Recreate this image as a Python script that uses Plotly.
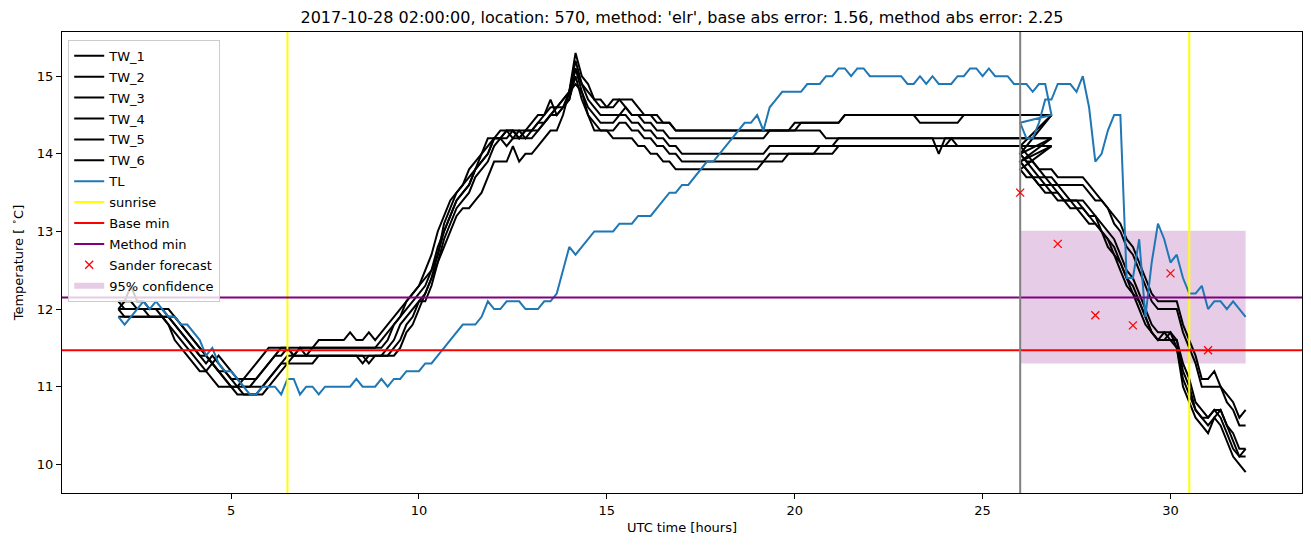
import numpy as np
import plotly.graph_objects as go

# ---------------- data (temperatures in tenths of a degree C) ----------------
obs_start = 2.0      # hours, first observed sample
fc_start = 26.0      # hours, first sample of the later chunk
step_h = 1 / 6       # 10-minute sampling

TW_1_obs = [121,121,123,121,121,120, 120,119,118,116,115,114, 113,112,112,111,110,110,
            110,110,111,112,113,114, 115,115,115,115,115,115, 115,115,116,116,116,116,
            116,117,116,116,117,116, 117,118,119,120,121,122, 123,124,125,127,131,133,
            135,136,137,138,140,141, 142,142,143,143,143,142, 143,144,145,147,145,146,
            148,153,150,149,147,147, 146,146,147,147,147,146, 145,145,145,144,144,143,
            143,143,143,143,143,143, 143,143,143,143,143,143, 143,143,143,143,143,143,
            143,144,144,144,144,144, 144,144,145,145,145,145, 145,145,145,145,145,145,
            145,145,145,145,145,145, 145,145,145,145,145,145, 145,145,145,145,145,145,
            145,145,145,145,145,145]
TW_2_obs = [120,120,120,120,120,120, 120,120,119,118,117,116, 115,114,113,114,113,112,
            111,111,111,111,111,112, 113,114,115,115,114,115, 115,115,115,115,115,115,
            115,115,115,115,115,115, 115,116,118,119,120,121, 122,123,125,128,130,132,
            134,135,136,138,139,140, 142,142,142,143,142,143, 143,143,144,145,146,147,
            148,152,149,148,147,146, 146,147,147,146,145,145, 145,145,144,144,144,143,
            143,143,143,143,143,143, 143,143,143,143,143,143, 143,143,143,143,143,143,
            144,144,144,144,144,144, 144,144,145,145,145,145, 145,145,145,145,145,145,
            145,145,144,144,144,144, 144,144,144,145,145,145, 145,145,145,145,145,145,
            145,145,145,145,145,145]
TW_3_obs = [120,121,121,120,120,119, 119,119,118,117,116,115, 114,113,112,113,112,111,
            110,110,110,110,111,112, 113,114,114,115,114,115, 114,115,115,115,115,115,
            115,115,115,115,115,115, 116,117,118,119,121,122, 123,125,127,130,132,134,
            135,136,138,139,140,142, 142,143,143,142,143,143, 144,145,145,146,146,147,
            148,151,149,147,146,145, 145,145,145,146,145,145, 144,144,143,143,142,142,
            142,142,142,142,142,142, 142,142,142,142,142,142, 142,142,143,143,143,143,
            143,143,143,143,143,142, 142,142,142,142,142,142, 142,142,142,142,142,142,
            142,142,142,142,142,140, 142,142,142,142,142,142, 142,142,142,142,142,142,
            142,142,142,142,142,142]
TW_4_obs = [121,120,120,120,120,120, 120,120,120,119,118,117, 116,115,114,113,114,113,
            112,111,110,110,110,110, 111,112,113,114,114,114, 114,114,114,114,114,114,
            114,114,114,114,113,114, 114,114,115,116,118,119, 121,122,124,127,130,132,
            134,135,136,138,139,140, 142,142,143,143,142,143, 143,144,144,145,146,146,
            147,151,148,146,145,144, 144,144,145,145,144,144, 143,143,142,142,141,141,
            140,140,140,140,140,140, 140,140,140,140,140,140, 140,140,141,141,141,141,
            141,141,141,141,141,141, 141,142,142,142,142,142, 142,142,142,142,142,142,
            142,142,142,142,142,142, 142,142,142,142,142,142, 142,142,142,142,142,142,
            142,142,142,142,142,142]
TW_5_obs = [119,119,119,119,119,119, 119,119,119,118,117,116, 115,114,114,113,112,112,
            111,110,109,109,109,110, 111,112,113,113,114,114, 114,114,114,114,114,114,
            114,114,114,114,114,114, 114,114,114,115,117,118, 120,122,124,126,129,131,
            133,134,135,137,138,139, 141,142,141,142,142,142, 142,143,144,145,145,146,
            147,150,147,145,144,143, 143,143,144,144,143,143, 142,142,141,141,140,140,
            139,139,139,139,139,139, 139,139,139,139,139,139, 139,139,140,140,140,140,
            140,140,140,140,140,140, 140,141,141,141,141,141, 141,141,141,141,141,141,
            141,141,141,141,141,141, 141,142,141,141,141,141, 141,141,141,141,141,141,
            141,141,141,141,141,141]
TW_6_obs = [120,119,119,119,119,119, 119,119,119,119,118,117, 116,115,114,113,112,111,
            110,109,109,109,109,109, 110,111,112,113,113,113, 113,113,114,114,114,114,
            114,114,114,113,114,114, 114,115,116,118,119,120, 121,121,123,126,128,130,
            132,133,133,134,135,137, 139,139,139,141,139,140, 140,141,142,143,143,145,
            148,149,148,145,143,143, 143,142,142,142,142,141, 141,140,140,139,139,138,
            138,138,138,138,138,138, 138,138,138,138,138,138, 138,139,139,139,139,140,
            140,140,140,140,141,141, 141,141,141,141,141,141, 141,141,141,141,141,141,
            141,141,141,141,141,141, 141,141,141,141,141,141, 141,141,141,141,141,141,
            141,141,141,141,141,141]
TL_obs = [119,118,119,120,121,120, 121,120,119,119,118,118, 117,116,114,115,113,112,
          112,111,110,109,109,110, 110,110,109,111,111,109, 110,110,109,110,110,110,
          110,110,111,110,110,110, 111,110,111,111,112,112, 112,113,113,114,115,116,
          117,118,118,118,119,121, 120,120,121,121,121,120, 120,120,121,121,122,125,
          128,127,128,129,130,130, 130,130,131,131,131,132, 132,132,133,134,135,135,
          136,136,137,138,139,139, 140,141,142,143,144,144, 145,143,146,147,148,148,
          148,148,149,149,149,150, 150,151,151,150,151,151, 150,150,150,150,150,150,
          149,149,150,149,150,149, 149,149,150,150,151,151, 150,151,150,150,150,149,
          149,149,148,149,149,145]

TW_1_fc = [141,140,139,138,138,138, 137,137,137,137,137,136, 135,134,133,132,131,129,
           128,126,124,122,121,121, 121,121,118,116,114,111, 111,112,110,109,108,106, 107]
TW_2_fc = [140,139,139,138,137,137, 136,136,136,136,136,135, 134,134,133,131,130,128,
           127,125,123,121,120,120, 120,120,117,115,113,110, 110,110,110,108,107,105, 105]
TW_3_fc = [140,139,138,137,137,136, 136,135,134,134,134,133, 132,131,130,129,127,125,
           124,122,120,118,117,117, 117,116,113,111,108,107, 106,107,107,105,104,102, 102]
TW_4_fc = [139,138,137,137,136,136, 135,134,134,134,133,132, 132,130,129,128,126,124,
           123,121,119,117,116,117, 116,116,112,110,107,106, 105,106,107,105,103,101, 101]
TW_5_fc = [139,138,137,136,136,135, 135,134,134,133,133,132, 131,130,129,127,126,124,
           122,121,119,117,116,116, 117,115,111,109,107,106, 106,107,106,104,102,101, 102]
TW_6_fc = [138,137,137,136,135,135, 134,134,133,133,132,131, 131,130,128,127,125,123,
           122,120,118,117,116,116, 116,115,110,108,106,105, 104,106,105,103,101,100, 99]
TL_fc = [144,142,142,144,147,147, 149,149,149,148,150,146, 139,140,143,145,145,124,
         124,129,119,126,131,129, 126,127,124,122,122,123, 120,121,121,120,121,120, 119]

sunrise_hours = [6.5, 30.5]
forecast_hour = 26.0
base_min = 11.47
method_min = 12.15
sander_hours = [26, 27, 28, 29, 30, 31]
sander_values = [13.50, 12.84, 11.92, 11.79, 12.46, 11.47]
conf_hours = [26.0, 32.0]
conf_low, conf_high = 11.30, 13.01

title = ("2017-10-28 02:00:00, location: 570, method: 'elr', "
         "base abs error: 1.56, method abs error: 2.25")

# ---------------- figure ----------------
hours_obs = obs_start + np.arange(len(TL_obs)) * step_h
hours_fc = fc_start + np.arange(len(TL_fc)) * step_h
hours = np.concatenate([hours_obs, hours_fc])

x_range = [0.5, 33.5]
y_range = [9.63, 15.57]

# the page body adds an 8px offset, so the figure is sized to fit inside it
FIG_W, FIG_H = 1295, 531

fig = go.Figure()
FONT = "DejaVu Sans"

# confidence band (drawn first, listed last)
fig.add_trace(go.Scatter(
    x=[conf_hours[0], conf_hours[1], conf_hours[1], conf_hours[0], conf_hours[0]],
    y=[conf_low, conf_low, conf_high, conf_high, conf_low],
    fill="toself", fillcolor="rgba(128,0,128,0.2)", mode="none",
    name="95% confidence", legendrank=12, legendgroup="g12", hoverinfo="skip"))

tw_series = [("TW_1", TW_1_obs, TW_1_fc), ("TW_2", TW_2_obs, TW_2_fc),
             ("TW_3", TW_3_obs, TW_3_fc), ("TW_4", TW_4_obs, TW_4_fc),
             ("TW_5", TW_5_obs, TW_5_fc), ("TW_6", TW_6_obs, TW_6_fc)]
for k, (name, obs, fc) in enumerate(tw_series):
    fig.add_trace(go.Scatter(
        x=hours, y=np.array(obs + fc) / 10, mode="lines", name=name,
        line=dict(color="black", width=2), legendrank=k + 1,
        legendgroup=f"g{k + 1}"))

fig.add_trace(go.Scatter(
    x=hours, y=np.array(TL_obs + TL_fc) / 10, mode="lines", name="TL",
    line=dict(color="#1f77b4", width=2), legendrank=7, legendgroup="g7"))

for j, sh in enumerate(sunrise_hours):
    fig.add_trace(go.Scatter(
        x=[sh, sh], y=y_range, mode="lines", name="sunrise",
        line=dict(color="yellow", width=2), showlegend=(j == 0),
        legendgroup="g8", legendrank=8))

fig.add_trace(go.Scatter(
    x=x_range, y=[base_min, base_min], mode="lines", name="Base min",
    line=dict(color="red", width=2), legendrank=9, legendgroup="g9"))
fig.add_trace(go.Scatter(
    x=x_range, y=[method_min, method_min], mode="lines", name="Method min",
    line=dict(color="purple", width=2), legendrank=10, legendgroup="g10"))
fig.add_trace(go.Scatter(
    x=[forecast_hour, forecast_hour], y=y_range, mode="lines",
    line=dict(color="gray", width=2), showlegend=False))

fig.add_trace(go.Scatter(
    x=sander_hours, y=sander_values, mode="markers", name="Sander forecast",
    marker=dict(symbol="x-thin", size=8, color="red",
                line=dict(width=1.3, color="red")), legendrank=11,
    legendgroup="g11"))

axis_common = dict(showgrid=False, zeroline=False, showline=True, mirror=True,
                   linecolor="black", linewidth=1, ticks="outside", ticklen=5,
                   tickwidth=1, tickcolor="black",
                   tickfont=dict(family=FONT, size=13, color="black"))

fig.update_layout(
    width=FIG_W, height=FIG_H,
    margin=dict(l=54, r=1, t=24, b=46),
    paper_bgcolor="white", plot_bgcolor="white",
    font=dict(family=FONT, size=13, color="black"),
    title=dict(text=title, x=0.5, xref="paper", y=1 - 9 / FIG_H, yanchor="middle",
               font=dict(family=FONT, size=16, color="black")),
    xaxis=dict(range=x_range, tickvals=[5, 10, 15, 20, 25, 30],
               title=dict(text="UTC time [hours]", standoff=6,
                          font=dict(family=FONT, size=13)),
               **axis_common),
    yaxis=dict(range=y_range, tickvals=[10, 11, 12, 13, 14, 15],
               title=dict(text="Temperature [ <sup>∘</sup>C]", standoff=10,
                          font=dict(family=FONT, size=13)),
               **axis_common),
    legend=dict(x=0.005, y=0.983, xanchor="left", yanchor="top",
                bgcolor="rgba(255,255,255,0.8)", bordercolor="#cccccc",
                borderwidth=1, traceorder="grouped", tracegroupgap=1,
                font=dict(family=FONT, size=13, color="black")),
    showlegend=True,
)

fig.write_html("out.html")
